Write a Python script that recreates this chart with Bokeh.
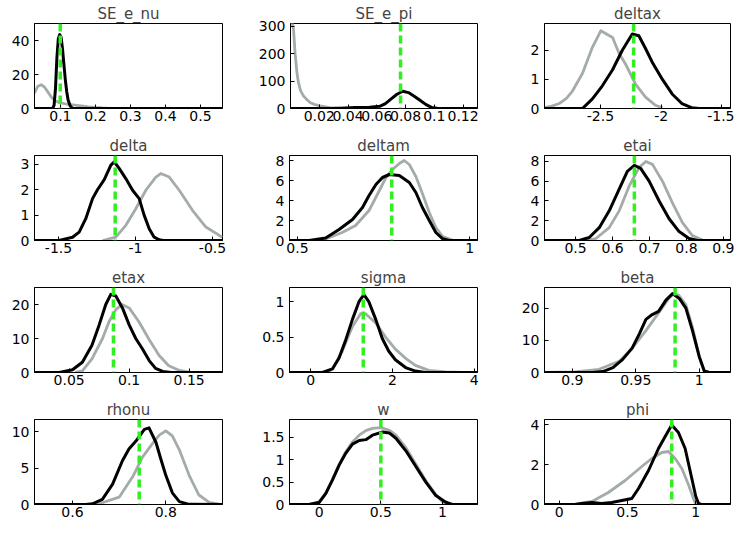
from bokeh.plotting import figure
from bokeh.models import Span, FixedTicker, CustomJSTickFormatter
from bokeh.layouts import column, row
from bokeh.embed import file_html
from bokeh.resources import INLINE

# ---------------- data ----------------
titles = ["SE_e_nu", "SE_e_pi", "deltax", "delta", "deltam", "etai",
          "etax", "sigma", "beta", "rhonu", "w", "phi"]

# SE_e_nu
se_e_nu_prior_x = [0.026, 0.035, 0.045, 0.055, 0.065, 0.075, 0.085, 0.1, 0.12, 0.14, 0.16, 0.18, 0.2, 0.22, 0.24]
se_e_nu_prior_y = [9, 13, 14, 12.5, 9.5, 6.5, 4.5, 3.3, 2.5, 2.0, 1.5, 1.0, 0.6, 0.3, 0.1]
se_e_nu_post_x = [0.026, 0.078, 0.082, 0.086, 0.09, 0.094, 0.098, 0.102, 0.106, 0.11, 0.114, 0.118, 0.122, 0.128, 0.135, 0.563]
se_e_nu_post_y = [0, 0, 2, 12, 30, 41, 43.5, 42, 35, 26, 17, 10, 5, 1.5, 0, 0]
se_e_nu_mode = 0.0995
se_e_nu_xticks = [0.1, 0.2, 0.3, 0.4, 0.5]
se_e_nu_yticks = [0, 20, 40]

# SE_e_pi
se_e_pi_prior_x = [0.0008, 0.0015, 0.0021, 0.0032, 0.0045, 0.0055, 0.007, 0.009, 0.0115, 0.0136, 0.017, 0.0205, 0.0274, 0.035, 0.045]
se_e_pi_prior_y = [320, 305, 290, 200, 130, 95, 65, 46, 32, 22, 14, 10, 3, 1, 0.3]
se_e_pi_post_x = [0.0, 0.03, 0.035, 0.045, 0.055, 0.062, 0.066, 0.07, 0.074, 0.078, 0.082, 0.086, 0.09, 0.094, 0.098, 0.102, 0.108, 0.13]
se_e_pi_post_y = [0, 0, 1, 4, 5, 8, 18, 35, 52, 63, 58, 45, 30, 15, 4, 1, 0, 0]
se_e_pi_mode = 0.0765
se_e_pi_xticks = [0.02, 0.04, 0.06, 0.08, 0.1, 0.12]
se_e_pi_yticks = [0, 100, 200, 300]

# deltax
deltax_prior_x = [-2.96, -2.90, -2.839, -2.78, -2.73, -2.648, -2.566, -2.497, -2.40, -2.347, -2.29, -2.21, -2.129, -2.047, -1.99]
deltax_prior_y = [0.03, 0.08, 0.17, 0.35, 0.6, 1.2, 2.1, 2.67, 2.44, 1.9, 1.5, 0.83, 0.39, 0.11, 0.02]
deltax_post_x = [-2.96, -2.648, -2.566, -2.484, -2.40, -2.32, -2.238, -2.184, -2.129, -2.075, -1.99, -1.91, -1.83, -1.75, -1.69, -1.43]
deltax_post_y = [0, 0, 0.33, 0.78, 1.33, 2.0, 2.56, 2.5, 2.06, 1.6, 1.0, 0.5, 0.17, 0.03, 0, 0]
deltax_mode = -2.227
deltax_xticks = [-2.5, -2, -1.5]
deltax_yticks = [0, 1, 2]

# delta
delta_prior_x = [-1.214, -1.128, -1.063, -0.998, -0.933, -0.868, -0.836, -0.781, -0.716, -0.63, -0.543, -0.456, -0.435]
delta_prior_y = [0.0, 0.13, 0.6, 1.25, 1.98, 2.5, 2.64, 2.5, 1.98, 1.19, 0.53, 0.2, 0.13]
delta_post_x = [-1.656, -1.496, -1.409, -1.366, -1.323, -1.279, -1.247, -1.203, -1.16, -1.138, -1.106, -1.063, -1.019, -0.976, -0.944, -0.911, -0.879, -0.846, -0.82, -0.435]
delta_post_y = [0, 0, 0.13, 0.33, 0.86, 1.65, 2.0, 2.4, 2.97, 3.1, 2.84, 2.44, 1.98, 1.65, 1.0, 0.46, 0.13, 0.03, 0, 0]
delta_mode = -1.132
delta_xticks = [-1.5, -1, -0.5]
delta_yticks = [0, 1, 2, 3]

# deltam
deltam_prior_x = [0.55, 0.582, 0.63, 0.669, 0.708, 0.738, 0.757, 0.776, 0.796, 0.810, 0.825, 0.844, 0.863, 0.883, 0.902, 0.922, 0.95]
deltam_prior_y = [0.02, 0.15, 0.8, 1.5, 3.0, 5.0, 6.3, 7.1, 7.7, 8.0, 7.6, 6.4, 4.7, 2.8, 1.3, 0.4, 0.05]
deltam_post_x = [0.477, 0.534, 0.582, 0.621, 0.660, 0.689, 0.708, 0.728, 0.747, 0.767, 0.796, 0.825, 0.844, 0.863, 0.883, 0.902, 0.922, 0.941, 1.023]
deltam_post_y = [0, 0, 0.26, 1.1, 2.1, 3.3, 4.5, 5.6, 6.3, 6.6, 6.5, 5.8, 4.8, 3.3, 2.0, 0.8, 0.17, 0, 0]
deltam_mode = 0.774
deltam_xticks = [0.5, 1]
deltam_yticks = [0, 2, 4, 6, 8]

# etai
etai_prior_x = [0.53, 0.555, 0.591, 0.618, 0.645, 0.672, 0.690, 0.708, 0.735, 0.762, 0.789, 0.816, 0.843]
etai_prior_y = [0.02, 0.2, 1.3, 3.0, 5.5, 7.4, 8.0, 7.7, 6.0, 3.8, 1.8, 0.5, 0.05]
etai_post_x = [0.416, 0.51, 0.537, 0.564, 0.591, 0.618, 0.64, 0.659, 0.676, 0.699, 0.726, 0.753, 0.780, 0.807, 0.83, 0.919]
etai_post_y = [0, 0, 0.3, 1.3, 3.0, 5.2, 7.0, 7.6, 7.3, 6.0, 4.0, 2.2, 0.9, 0.2, 0, 0]
etai_mode = 0.659
etai_xticks = [0.5, 0.6, 0.7, 0.8, 0.9]
etai_yticks = [0, 2, 4, 6, 8]

# etax
etax_prior_x = [0.055, 0.061, 0.069, 0.0778, 0.0833, 0.0889, 0.094, 0.1, 0.108, 0.117, 0.125, 0.133, 0.142, 0.15]
etax_prior_y = [0.05, 0.5, 4, 10, 15, 18.5, 20, 19, 15, 9.5, 5, 2, 0.6, 0.1]
etax_post_x = [0.0211, 0.0417, 0.0528, 0.061, 0.069, 0.075, 0.0805, 0.0847, 0.0889, 0.0944, 0.1, 0.1055, 0.111, 0.1167, 0.122, 0.128, 0.135, 0.1778]
etax_post_y = [0, 0, 0.8, 3, 8, 14, 20, 23, 22.5, 19, 14, 10, 7, 3.5, 1.2, 0.3, 0, 0]
etax_mode = 0.0869
etax_xticks = [0.05, 0.1, 0.15]
etax_yticks = [0, 10, 20]

# sigma
sigma_prior_x = [0.4, 0.53, 0.77, 1.02, 1.22, 1.34, 1.59, 1.83, 2.07, 2.32, 2.56, 2.89, 3.3, 3.7]
sigma_prior_y = [0.0, 0.05, 0.3, 0.65, 0.83, 0.83, 0.7, 0.5, 0.33, 0.2, 0.1, 0.03, 0.01, 0.0]
sigma_post_x = [-0.52, 0.285, 0.53, 0.69, 0.85, 1.02, 1.18, 1.30, 1.42, 1.59, 1.75, 1.91, 2.07, 2.32, 2.56, 2.8, 4.08]
sigma_post_y = [0, 0, 0.05, 0.2, 0.45, 0.75, 1.0, 1.1, 1.0, 0.75, 0.48, 0.3, 0.18, 0.07, 0.02, 0, 0]
sigma_mode = 1.285
sigma_xticks = [0, 2, 4]
sigma_yticks = [0, 0.5, 1]

# beta
beta_prior_x = [0.879, 0.902, 0.921, 0.937, 0.947, 0.958, 0.968, 0.976, 0.980, 0.984, 0.9895, 0.9947, 1.0, 1.004, 1.008]
beta_prior_y = [0.05, 0.2, 1, 3.5, 7.5, 13, 18.5, 23, 24.5, 24, 21, 14, 5, 0.5, 0]
beta_post_x = [0.878, 0.9158, 0.924, 0.932, 0.9395, 0.947, 0.9528, 0.958, 0.963, 0.968, 0.9738, 0.979, 0.9843, 0.9895, 0.9947, 1.0, 1.004, 1.008, 1.0247]
beta_post_y = [0, 0, 0.3, 1.5, 4, 7.5, 12, 16.5, 18, 19, 22.5, 24.5, 23, 20, 13, 5, 0.5, 0, 0]
beta_mode = 0.981
beta_xticks = [0.9, 0.95, 1]
beta_yticks = [0, 10, 20]

# rhonu
rhonu_prior_x = [0.64, 0.657, 0.70, 0.729, 0.75, 0.771, 0.786, 0.80, 0.814, 0.829, 0.85, 0.871, 0.893, 0.914]
rhonu_prior_y = [0.0, 0.1, 1.0, 3.8, 6.5, 8.3, 9.5, 10.1, 9.4, 7.5, 4, 1.3, 0.3, 0.05]
rhonu_post_x = [0.5186, 0.6286, 0.643, 0.664, 0.686, 0.707, 0.721, 0.736, 0.754, 0.764, 0.779, 0.789, 0.80, 0.814, 0.829, 0.85, 0.9215]
rhonu_post_y = [0, 0, 0.1, 0.7, 2.8, 6.0, 7.6, 8.7, 10.3, 10.5, 8.5, 6.3, 4, 1.6, 0.4, 0.02, 0]
rhonu_mode = 0.743
rhonu_xticks = [0.6, 0.8]
rhonu_yticks = [0, 5, 10]

# w
w_prior_x = [-0.02, 0, 0.054, 0.108, 0.162, 0.216, 0.27, 0.324, 0.378, 0.432, 0.5, 0.568, 0.622, 0.703, 0.784, 0.865, 0.946, 1.0, 1.02]
w_prior_y = [0, 0.04, 0.26, 0.57, 0.9, 1.18, 1.4, 1.55, 1.65, 1.7, 1.72, 1.66, 1.55, 1.27, 0.9, 0.53, 0.22, 0.06, 0]
w_post_x = [-0.241, -0.084, 0, 0.054, 0.108, 0.162, 0.216, 0.27, 0.324, 0.378, 0.432, 0.514, 0.568, 0.622, 0.703, 0.784, 0.865, 0.946, 1.027, 1.08, 1.284]
w_post_y = [0, 0, 0.05, 0.25, 0.55, 0.88, 1.15, 1.35, 1.43, 1.45, 1.55, 1.62, 1.6, 1.48, 1.2, 0.85, 0.5, 0.2, 0.05, 0, 0]
w_mode = 0.5
w_xticks = [0, 0.5, 1]
w_yticks = [0, 0.5, 1, 1.5]

# phi
phi_prior_x = [-0.107, 0.117, 0.24, 0.36, 0.483, 0.605, 0.678, 0.751, 0.80, 0.849, 0.898, 0.946, 0.983, 1.0]
phi_prior_y = [0, 0.02, 0.15, 0.6, 1.2, 1.9, 2.3, 2.6, 2.65, 2.3, 1.8, 1.0, 0.3, 0]
phi_post_x = [-0.107, 0.117, 0.166, 0.24, 0.31, 0.385, 0.459, 0.532, 0.581, 0.654, 0.727, 0.776, 0.824, 0.873, 0.922, 0.971, 1.0, 1.02, 1.04, 1.254]
phi_post_y = [0, 0, 0.05, 0.1, 0.05, 0.1, 0.2, 0.3, 0.8, 1.7, 2.8, 3.4, 3.97, 3.6, 2.8, 1.3, 0.4, 0.05, 0, 0]
phi_mode = 0.824
phi_xticks = [0, 0.5, 1]
phi_yticks = [0, 2, 4]

# axis limits of each panel
x_limits = [(0.026, 0.563), (0.0, 0.13), (-2.96, -1.43), (-1.656, -0.435), (0.477, 1.023), (0.416, 0.919),
            (0.0211, 0.1778), (-0.52, 4.08), (0.878, 1.0247), (0.5186, 0.9215), (-0.241, 1.284), (-0.107, 1.254)]
y_limits = [(0, 50), (0, 310), (0, 2.92), (0, 3.35), (0, 8.5), (0, 8.6),
            (0, 25), (0, 1.2), (0, 26.4), (0, 11.65), (0, 1.9), (0, 4.25)]

panels = [
    (se_e_nu_prior_x, se_e_nu_prior_y, se_e_nu_post_x, se_e_nu_post_y, se_e_nu_mode, se_e_nu_xticks, se_e_nu_yticks),
    (se_e_pi_prior_x, se_e_pi_prior_y, se_e_pi_post_x, se_e_pi_post_y, se_e_pi_mode, se_e_pi_xticks, se_e_pi_yticks),
    (deltax_prior_x, deltax_prior_y, deltax_post_x, deltax_post_y, deltax_mode, deltax_xticks, deltax_yticks),
    (delta_prior_x, delta_prior_y, delta_post_x, delta_post_y, delta_mode, delta_xticks, delta_yticks),
    (deltam_prior_x, deltam_prior_y, deltam_post_x, deltam_post_y, deltam_mode, deltam_xticks, deltam_yticks),
    (etai_prior_x, etai_prior_y, etai_post_x, etai_post_y, etai_mode, etai_xticks, etai_yticks),
    (etax_prior_x, etax_prior_y, etax_post_x, etax_post_y, etax_mode, etax_xticks, etax_yticks),
    (sigma_prior_x, sigma_prior_y, sigma_post_x, sigma_post_y, sigma_mode, sigma_xticks, sigma_yticks),
    (beta_prior_x, beta_prior_y, beta_post_x, beta_post_y, beta_mode, beta_xticks, beta_yticks),
    (rhonu_prior_x, rhonu_prior_y, rhonu_post_x, rhonu_post_y, rhonu_mode, rhonu_xticks, rhonu_yticks),
    (w_prior_x, w_prior_y, w_post_x, w_post_y, w_mode, w_xticks, w_yticks),
    (phi_prior_x, phi_prior_y, phi_post_x, phi_post_y, phi_mode, phi_xticks, phi_yticks),
]

# ---------------- layout / style ----------------
FONT = "DejaVu Sans"
col_widths = [255, 255, 224]
col_right = [33, 33, 4]
row_heights = [132, 132, 132, 130]
row_bottom = [24, 24, 24, 22]

fmt = CustomJSTickFormatter(code="return String(tick);")


def make_panel(i):
    prx, pry, pox, poy, mode, xt, yt = panels[i]
    r, c = divmod(i, 3)
    p = figure(width=col_widths[c], height=row_heights[r],
               x_range=x_limits[i], y_range=y_limits[i],
               output_backend="svg", toolbar_location=None, tools="",
               min_border_left=34, min_border_right=col_right[c],
               min_border_top=23, min_border_bottom=row_bottom[r],
               title=titles[i])
    p.title.align = "center"
    p.title.text_font = FONT
    p.title.text_font_size = "15px"
    p.title.text_font_style = "normal"
    p.title.standoff = 2
    p.grid.visible = False
    p.outline_line_color = "black"
    p.outline_line_width = 1
    p.background_fill_color = "white"
    p.border_fill_color = "white"

    for ax in (p.xaxis[0], p.yaxis[0]):
        ax.major_tick_in = 4
        ax.major_tick_out = 0
        ax.minor_tick_line_color = None
        ax.axis_line_color = "black"
        ax.major_tick_line_color = "black"
        ax.major_label_text_font = FONT
        ax.major_label_text_font_size = "14px"
        ax.major_label_text_color = "black"
        ax.formatter = fmt
    p.xaxis[0].ticker = FixedTicker(ticks=xt)
    p.yaxis[0].ticker = FixedTicker(ticks=yt)
    p.xaxis[0].major_label_standoff = 2
    p.yaxis[0].major_label_standoff = 5

    p.line(prx, pry, line_color="#a3abab", line_width=2.8, line_join="round")
    p.line(pox, poy, line_color="black", line_width=3, line_join="round")
    p.add_layout(Span(location=mode, dimension="height", line_color="#33ee22",
                      line_width=3.5, line_dash="8 4"))
    return p


figs = [make_panel(i) for i in range(12)]
layout = column(*[row(*figs[3 * r:3 * r + 3]) for r in range(4)])

open("out.html", "w").write(file_html(layout, INLINE))
